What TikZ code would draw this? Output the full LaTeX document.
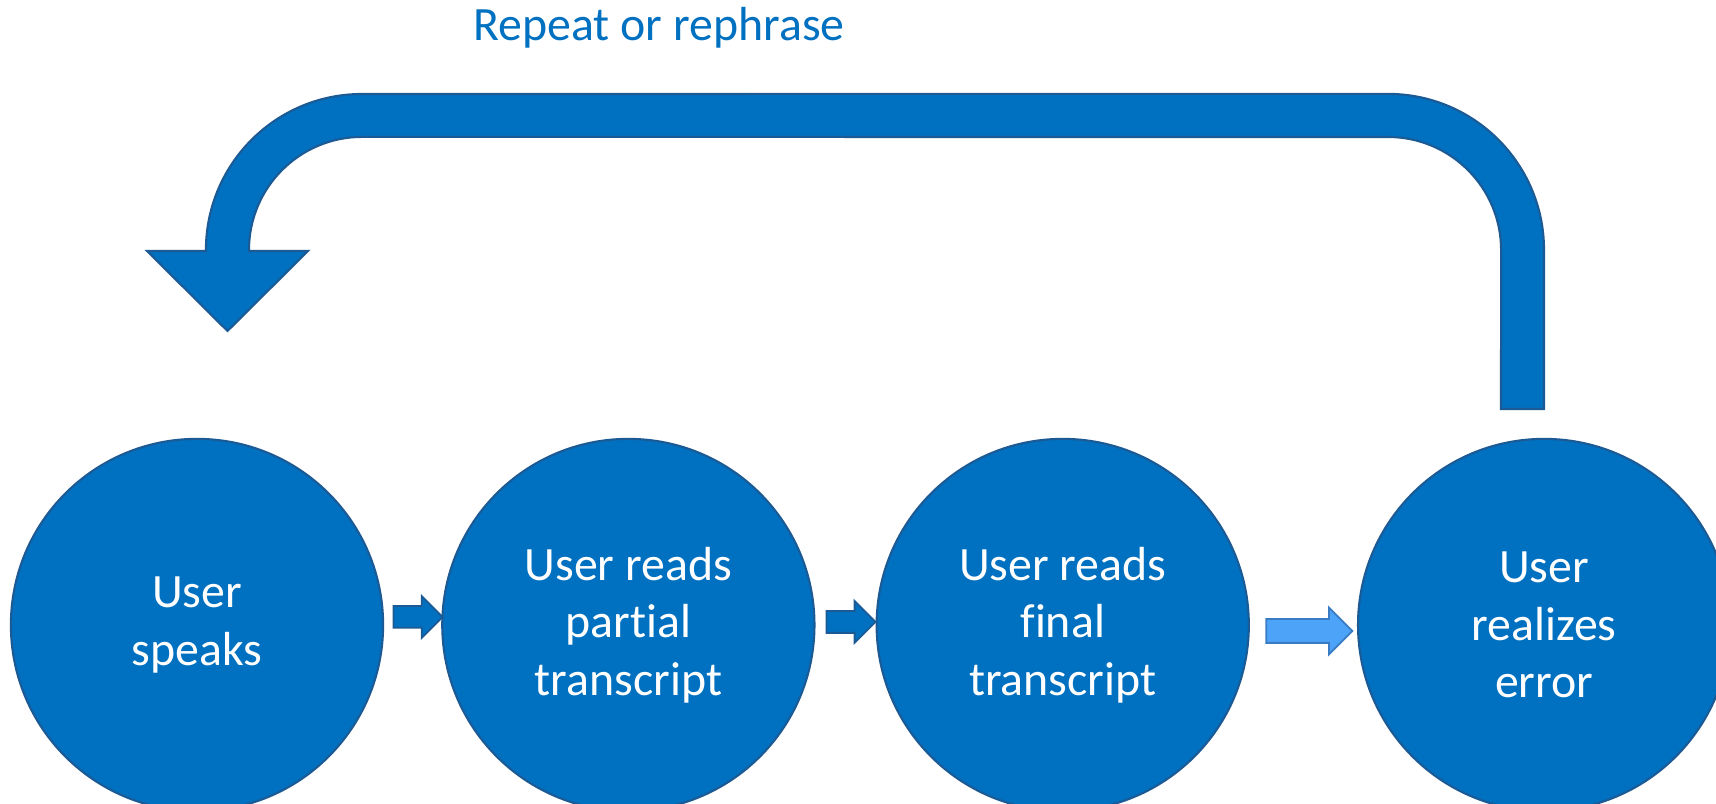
\documentclass[tikz,border=0pt]{standalone}
\usepackage{fontspec}
\setmainfont{Carlito}[Ligatures=NoCommon]
\usetikzlibrary{
	positioning,
	calc,
	shapes.arrows
}

\definecolor{stageblue}{HTML}{0070C0}
\definecolor{stageedge}{HTML}{1B5A94}
\definecolor{lightfill}{HTML}{4DA3F7}
\definecolor{lightedge}{HTML}{3A7CC4}

\begin{document}
\begin{tikzpicture}[x=0.01cm, y=0.01cm,
stage/.style={circle, minimum size=3.72cm, inner sep=0pt, fill=stageblue, draw=stageedge, line width=0.6pt,
text=white, align=center, font=\fontsize{13.6}{16.4}\selectfont},
nextarrow/.style={single arrow, single arrow head extend=0.1cm, single arrow head indent=0pt,
inner sep=0.1cm, minimum height=0.49cm, fill=stageblue, draw=stageedge, line width=0.5pt}]
\useasboundingbox (0,0) rectangle (1716,804);

% the four stages
\node[stage] (speaks) at (197,179) {User\\speaks};
\node[stage, right=0.57cm of speaks] (partial) {User reads\\partial\\transcript};
\node[stage, right=0.60cm of partial] (final) {User reads\\final\\transcript};
\node[stage, right=1.07cm of final] (error) {User\\realizes\\error};

% small block arrows between the stages
\node[nextarrow, yshift=0.08cm] (a1) at ($(speaks.east)!0.5!(partial.west)$) {};
\node[nextarrow, yshift=0.03cm] (a2) at ($(partial.east)!0.5!(final.west)$) {};
\node[nextarrow, minimum height=0.86cm, inner sep=0.11cm, single arrow head extend=0.115cm,
fill=lightfill, draw=lightedge, yshift=-0.06cm] (a3) at ($(final.east)!0.5!(error.west)$) {};

% loop back to the start
\filldraw[fill=stageblue, draw=stageedge, line width=0.6pt]
(1544,395) -- (1544,554) arc[start angle=0, end angle=90, radius=1.56cm]
-- (362,710) arc[start angle=90, end angle=180, radius=1.56cm]
-- (206,553) -- (147,553) -- (227.5,473) -- (308,553) -- (249,553)
-- (249,554) arc[start angle=180, end angle=90, radius=1.13cm]
-- (1388,667) arc[start angle=90, end angle=0, radius=1.13cm]
-- (1501,395) -- cycle;

\node[text=stageblue, font=\fontsize{13.6}{16.4}\selectfont] (label) at (659,776) {Repeat or rephrase};
\end{tikzpicture}
\end{document}
